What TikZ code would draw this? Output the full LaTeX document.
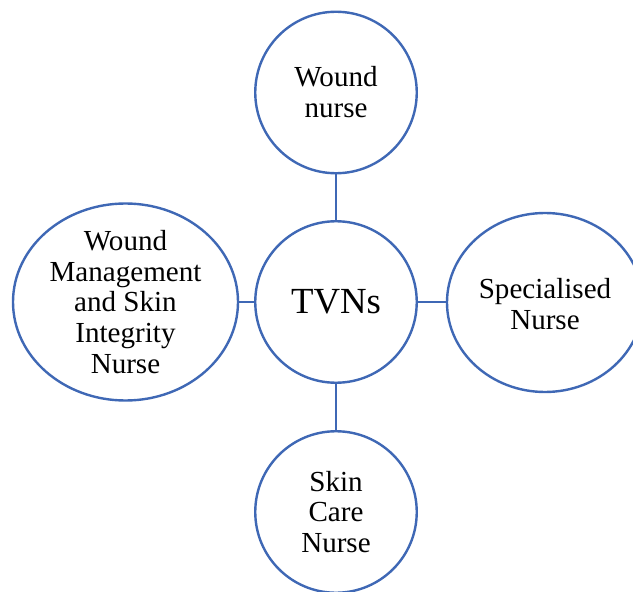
\documentclass[tikz,border=0pt]{standalone}
\usepackage{fontspec}
\setmainfont{Liberation Serif}
\usetikzlibrary{shapes.geometric}
\definecolor{ringblue}{HTML}{3F68B5}
\tikzset{
  px/.style={x=0.75pt,y=-0.75pt},
  ring/.style={draw=ringblue,line width=1.8pt,fill=white,inner sep=0pt},
  roundring/.style={ring,circle,minimum size=161.5*0.75pt},
  ovalring/.style={ring,ellipse},
  caption/.style={align=center,inner sep=0pt,font=\fontsize{21.8pt}{22.9pt}\selectfont},
  link/.style={draw=ringblue,line width=1.8pt}
}
\begin{document}
\begin{tikzpicture}[px]
  \useasboundingbox (0,0) rectangle (633,592);
  \clip (0,0) rectangle (633,592);
  % the five rings
  \node[roundring] (top) at (336,92.5) {};
  \node[roundring] (ctr) at (336,302) {};
  \node[roundring] (bot) at (336,512) {};
  \node[ovalring,minimum width=225*0.75pt,minimum height=197*0.75pt] (lft) at (125.5,302) {};
  \node[ovalring,minimum width=196*0.75pt,minimum height=179*0.75pt] (rgt) at (545,302.5) {};
  % connectors
  \draw[link] (top.south) -- (ctr.north);
  \draw[link] (ctr.south) -- (bot.north);
  \draw[link] (lft.east) -- (ctr.west);
  \draw[link] (ctr.east) -- (ctr.east -| rgt.west);
  % texts
  \node[caption] (toptext) at (336,92) {Wound\\nurse};
  \node[caption,font=\fontsize{27.6pt}{30pt}\selectfont] (ctrtext) at (336,302) {TVNs};
  \node[caption] (bottext) at (336,512) {Skin\\Care\\Nurse};
  \node[caption] (lfttext) at (125.5,302) {Wound\\Management\\and Skin\\Integrity\\Nurse};
  \node[caption] (rgttext) at (545,304) {Specialised\\Nurse};
\end{tikzpicture}
\end{document}
